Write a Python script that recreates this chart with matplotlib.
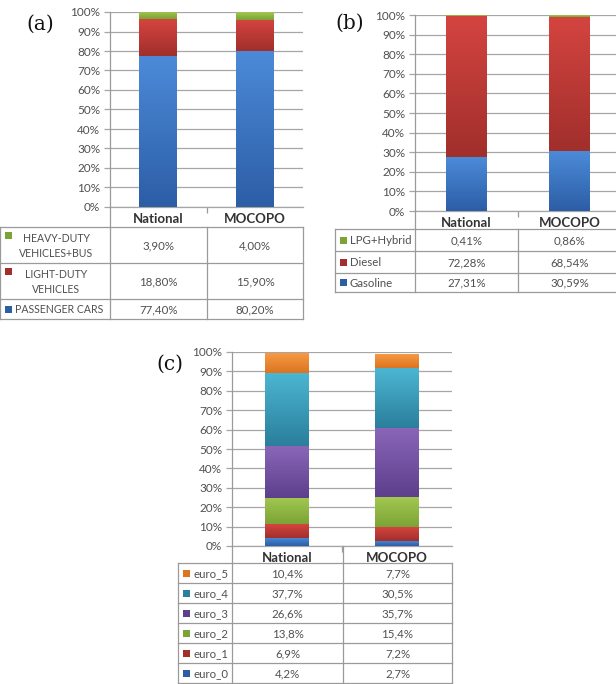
import numpy as np
import matplotlib
matplotlib.use('Agg')
import matplotlib.pyplot as plt
from matplotlib.colors import LinearSegmentedColormap

W, H = 616, 684

categories = ["National", "MOCOPO"]

# panel (a): vehicle types (bottom to top)
a_labels = ["PASSENGER CARS", "LIGHT-DUTY\nVEHICLES", "HEAVY-DUTY\nVEHICLES+BUS"]
a_national = [77.40, 18.80, 3.90]
a_mocopo = [80.20, 15.90, 4.00]

# panel (b): fuel types (bottom to top)
b_labels = ["Gasoline", "Diesel", "LPG+Hybrid"]
b_national = [27.31, 72.28, 0.41]
b_mocopo = [30.59, 68.54, 0.86]

# panel (c): euro classes (bottom to top)
c_labels = ["euro_0", "euro_1", "euro_2", "euro_3", "euro_4", "euro_5"]
c_national = [4.2, 6.9, 13.8, 26.6, 37.7, 10.4]
c_mocopo = [2.7, 7.2, 15.4, 35.7, 30.5, 7.7]

# (top, bottom) gradient colours
BLUE = ("#4c8ad8", "#2c5ea6")
RED = ("#d4443f", "#a12f2c")
GREEN = ("#a2c852", "#7ca335")
PURPLE = ("#8a66b8", "#5d3f8c")
TEAL = ("#4cb6d2", "#2a7f9c")
ORANGE = ("#f89c45", "#dc7420")

plt.rcParams['font.family'] = ['Lato', 'DejaVu Sans']

fig = plt.figure(figsize=(W / 100, H / 100), dpi=100)
overlay = fig.add_axes([0, 0, 1, 1], zorder=5)
overlay.set_xlim(0, W)
overlay.set_ylim(H, 0)
overlay.axis('off')
overlay.patch.set_alpha(0)

GRID = "#a6a6a6"
LINE = "#9a9a9a"
TXT = "#505050"


def px_rect(x0, y0, x1, y1):
    return [x0 / W, 1 - y1 / H, (x1 - x0) / W, (y1 - y0) / H]


def draw_bars(ax, series, colors, width):
    x = np.arange(len(categories))
    bottom = np.zeros(len(categories))
    for vals, (ctop, cbot) in zip(series, colors):
        vals = np.array(vals)
        bars = ax.bar(x, vals, width, bottom=bottom, color=cbot, zorder=3, linewidth=0)
        cmap = LinearSegmentedColormap.from_list('g', [cbot, ctop])
        grad = np.linspace(0, 1, 64).reshape(-1, 1)
        for b in bars:
            im = ax.imshow(grad, extent=(b.get_x(), b.get_x() + b.get_width(),
                                         b.get_y(), b.get_y() + b.get_height()),
                           origin='lower', cmap=cmap, aspect='auto', zorder=4)
            im.set_clip_path(b)
        bottom += vals


def panel(rect, series, colors, width):
    ax = fig.add_axes(px_rect(*rect))
    draw_bars(ax, series, colors, width)
    ax.set_xlim(-0.5, len(categories) - 0.5)
    ax.set_ylim(0, 100)
    ax.set_yticks(np.arange(0, 101, 10))
    ax.set_yticklabels([f"{t}%" for t in range(0, 101, 10)])
    ax.yaxis.grid(True, color=GRID, linewidth=0.9, zorder=0)
    ax.set_axisbelow(True)
    ax.set_xticks(np.arange(len(categories)))
    ax.set_xticklabels(categories, fontweight='bold', fontsize=9.5, color="#333333")
    ax.set_xticks([0.5], minor=True)
    ax.tick_params(axis='x', which='major', length=0, pad=4)
    ax.tick_params(axis='x', which='minor', length=4, color=LINE, width=0.9)
    ax.tick_params(axis='y', length=4, color=GRID, width=0.9, labelsize=8.5, labelcolor=TXT, pad=3)
    for s in ['top', 'right']:
        ax.spines[s].set_visible(False)
    ax.spines['left'].set_color(LINE)
    ax.spines['left'].set_linewidth(0.9)
    ax.spines['bottom'].set_color(GRID)
    ax.spines['bottom'].set_linewidth(0.9)
    return ax


def fmt(v, d):
    return f"{v:.{d}f}".replace('.', ',') + "%"


def table(xs, ys, labels, nat, moc, colors, d, axis_bottom, multiline=False,
          right_border=True, divider_up=False, lab_size=8.2):
    x0, x1, x2, x3 = xs
    for y in ys:
        overlay.plot([x0, x3], [y, y], color=LINE, lw=0.9)
    for x in ([x0, x1, x2, x3] if right_border else [x0, x1, x2]):
        overlay.plot([x, x], [ys[0], ys[-1]], color=LINE, lw=0.9)
    # value axis line continues down to the table
    overlay.plot([x1, x1], [axis_bottom, ys[0]], color=LINE, lw=0.9)
    if divider_up:
        overlay.plot([x2, x2], [axis_bottom, ys[0]], color=LINE, lw=0.9)
    n = len(labels)
    # rows drawn top to bottom: last series first
    for i in range(n):
        k = n - 1 - i
        yt, yb = ys[i], ys[i + 1]
        yc = (yt + yb) / 2 + 0.8
        overlay.text((x1 + x2) / 2, yc, fmt(nat[k], d), ha='center', va='center',
                     fontsize=8.3, color=TXT)
        overlay.text((x2 + x3) / 2, yc, fmt(moc[k], d), ha='center', va='center',
                     fontsize=8.3, color=TXT)
        ctop, cbot = colors[k]
        lab = labels[k]
        if multiline and "\n" in lab:
            overlay.add_patch(plt.Rectangle((x0 + 5, yt + 5), 7, 7, color=cbot, lw=0))
            overlay.text((x0 + x1) / 2 + 1, yc, lab, ha='center', va='center',
                         fontsize=lab_size, color=TXT, linespacing=1.4)
        else:
            overlay.add_patch(plt.Rectangle((x0 + 5, yc - 4), 7, 7, color=cbot, lw=0))
            overlay.text(x0 + 15, yc, lab, ha='left', va='center', fontsize=lab_size, color=TXT)


# ---- panel (a)
colors_a = [BLUE, RED, GREEN]
panel((110, 12, 303, 207), [list(v) for v in zip(a_national, a_mocopo)], colors_a, 0.39)
table((0, 110, 207, 303), [227, 263, 299, 319], a_labels, a_national, a_mocopo,
      colors_a, 2, 207, multiline=True, lab_size=7.6)
overlay.text(40, 24, "(a)", ha='center', va='center', fontsize=14.5,
             family='DejaVu Serif', color="#111111")

# ---- panel (b)
colors_b = [BLUE, RED, GREEN]
panel((415, 15, 621, 211), [list(v) for v in zip(b_national, b_mocopo)], colors_b, 0.39)
table((335, 415, 518, 622), [229, 251, 273, 292], b_labels, b_national, b_mocopo,
      colors_b, 2, 211, right_border=False)
overlay.text(350, 23, "(b)", ha='center', va='center', fontsize=14.5,
             family='DejaVu Serif', color="#111111")

# ---- panel (c)
colors_c = [BLUE, RED, GREEN, PURPLE, TEAL, ORANGE]
panel((232, 352, 452, 546), [list(v) for v in zip(c_national, c_mocopo)], colors_c, 0.4)
table((178, 232, 343, 452), [563, 583, 603, 623, 643, 663, 683], c_labels, c_national,
      c_mocopo, colors_c, 1, 546, divider_up=True)
overlay.text(170, 364, "(c)", ha='center', va='center', fontsize=14.5,
             family='DejaVu Serif', color="#111111")

fig.savefig("out.png", dpi=100, facecolor='white')
